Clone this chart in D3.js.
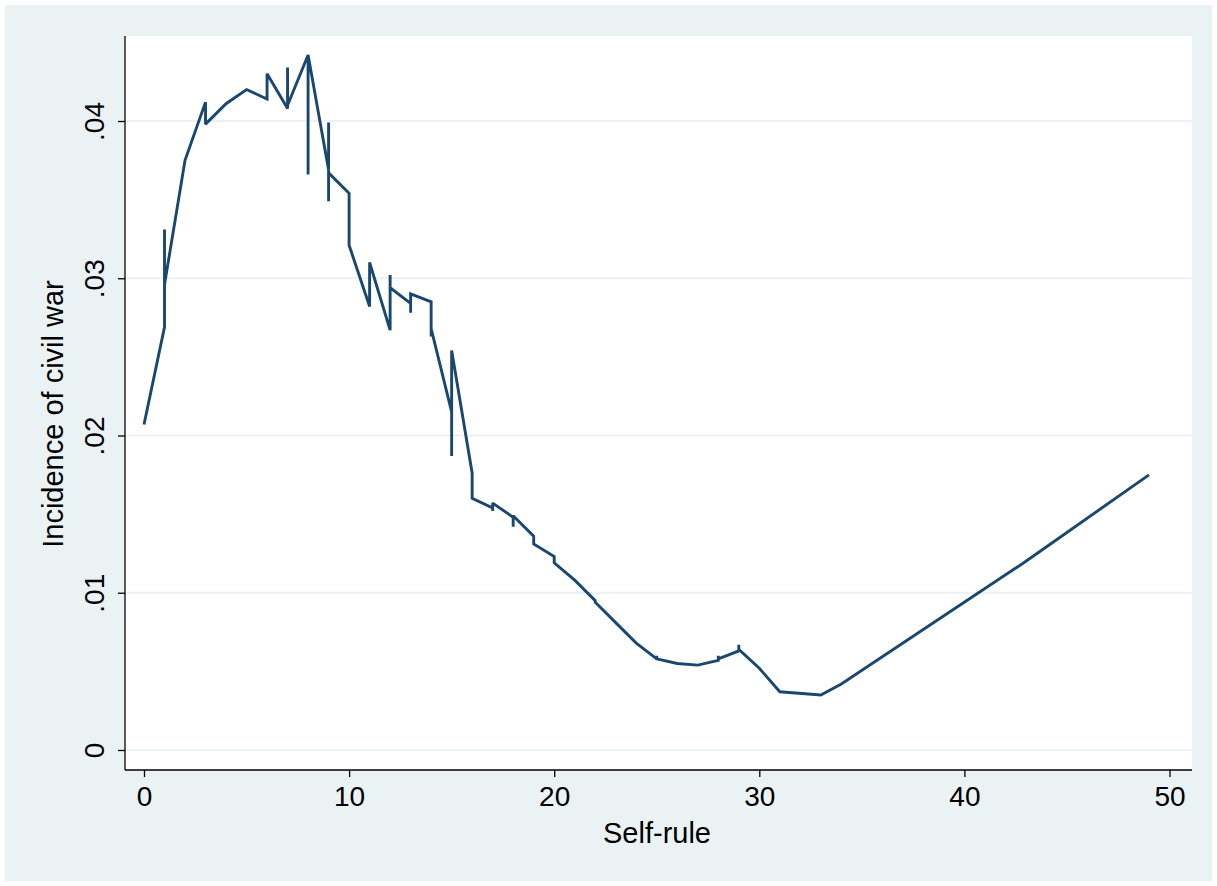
<!DOCTYPE html>
<html>
<head>
<meta charset="utf-8">
<script src="https://cdn.jsdelivr.net/npm/d3@7"></script>
<style>
  html, body { margin: 0; padding: 0; background: #ffffff; }
  svg { display: block; }
  text { font-family: "Liberation Sans", Arial, Helvetica, sans-serif; fill: #000; }
</style>
</head>
<body>
<svg id="chart" width="1217" height="886"></svg>
<script>
// Years of self-rule (repeated values give the vertical runs of the line)
const selfRule = [
  0,
  1, 1, 1,
  2,
  3, 3,
  4,
  5,
  6, 6,
  7, 7, 7,
  8, 8, 8,
  9, 9, 9, 9,
  10, 10,
  11, 11,
  12, 12, 12,
  13, 13, 13,
  14, 14, 14,
  15, 15, 15,
  16, 16,
  17, 17, 17,
  18, 18, 18,
  19, 19,
  20, 20,
  21,
  22, 22,
  23,
  24,
  25, 25, 25,
  26,
  27,
  28, 28, 28,
  29, 29, 29,
  30,
  31,
  33,
  34,
  43,
  49
];

// Predicted incidence of civil war, one value per entry above
const incidence = [
  0.0207,
  0.0269, 0.0331, 0.0296,
  0.0375,
  0.0412, 0.0398,
  0.0411,
  0.0420,
  0.0414, 0.0430,
  0.0408, 0.0434, 0.0410,
  0.0442, 0.0366, 0.0442,
  0.0369, 0.0399, 0.0349, 0.0367,
  0.0354, 0.0321,
  0.0282, 0.0310,
  0.0267, 0.0302, 0.0294,
  0.0284, 0.0278, 0.0290,
  0.0285, 0.0263, 0.0268,
  0.0215, 0.0187, 0.0254,
  0.0176, 0.0160,
  0.0154, 0.0152, 0.0157,
  0.0148, 0.0142, 0.0149,
  0.0136, 0.0131,
  0.0123, 0.0119,
  0.0108,
  0.0095, 0.0094,
  0.0081,
  0.0068,
  0.0058, 0.0060, 0.0058,
  0.0055,
  0.0054,
  0.0057, 0.0060, 0.0058,
  0.0063, 0.0067, 0.0064,
  0.0052,
  0.0037,
  0.0035,
  0.0042,
  0.0120,
  0.0175
];

const xTicks = [0, 10, 20, 30, 40, 50];
const yTicks = [0, 0.01, 0.02, 0.03, 0.04];
const yTickLabels = ["0", ".01", ".02", ".03", ".04"];
const xTitle = "Self-rule";
const yTitle = "Incidence of civil war";

const svg = d3.select("#chart");
const W = 1217, H = 886;

// Plot region bounds
const plot = { left: 125, right: 1192, top: 36, bottom: 770 };

const x = d3.scaleLinear().domain([0, 50]).range([144, 1169.5]);
const y = d3.scaleLinear().domain([0, 0.04]).range([750, 121]);

// Outer graph region
svg.append("rect").attr("x", 0).attr("y", 0).attr("width", W).attr("height", H).attr("fill", "#ffffff");
svg.append("rect").attr("x", 5).attr("y", 5).attr("width", W - 10).attr("height", H - 10).attr("fill", "#eaf2f3");

// Plot region
svg.append("rect")
  .attr("x", plot.left).attr("y", plot.top)
  .attr("width", plot.right - plot.left).attr("height", plot.bottom - plot.top)
  .attr("fill", "#ffffff");

// Horizontal grid lines
svg.append("g").selectAll("line").data(yTicks).join("line")
  .attr("x1", plot.left).attr("x2", plot.right)
  .attr("y1", d => y(d)).attr("y2", d => y(d))
  .attr("stroke", "#eaf2f3").attr("stroke-width", 2.2);

// Y axis
const yAxis = d3.axisLeft(y).tickValues(yTicks)
  .tickFormat((d, i) => yTickLabels[i]).tickSize(7).tickPadding(14);
const gy = svg.append("g").attr("transform", `translate(${plot.left},0)`).call(yAxis);
gy.select(".domain").attr("d", `M0,${plot.top}V${plot.bottom}`).attr("stroke", "#000").attr("stroke-width", 1.3);
gy.selectAll(".tick line").attr("stroke", "#000").attr("stroke-width", 1.3);
gy.selectAll(".tick text")
  .attr("font-size", 28).attr("fill", "#000")
  .attr("font-family", "Liberation Sans, Arial, sans-serif")
  .attr("text-anchor", "middle").attr("dy", null)
  .attr("x", null)
  .attr("transform", "translate(-31,0) rotate(-90)")
  .attr("dominant-baseline", "central");

// X axis
const xAxis = d3.axisBottom(x).tickValues(xTicks).tickSize(7).tickPadding(9);
const gx = svg.append("g").attr("transform", `translate(0,${plot.bottom})`).call(xAxis);
gx.select(".domain").attr("d", `M${plot.left},0H${plot.right}`).attr("stroke", "#000").attr("stroke-width", 1.3);
gx.selectAll(".tick line").attr("stroke", "#000").attr("stroke-width", 1.3);
gx.selectAll(".tick text")
  .attr("font-size", 28).attr("fill", "#000")
  .attr("font-family", "Liberation Sans, Arial, sans-serif");

// Axis titles
svg.append("text")
  .attr("x", 657).attr("y", 843)
  .attr("text-anchor", "middle").attr("font-size", 29)
  .text(xTitle);
svg.append("text")
  .attr("transform", `translate(63,414) rotate(-90)`)
  .attr("text-anchor", "middle").attr("font-size", 29)
  .text(yTitle);

// Prediction line
const pts = selfRule.map((s, i) => [s, incidence[i]]);
const line = d3.line().x(d => x(d[0])).y(d => y(d[1]));
svg.append("path")
  .datum(pts)
  .attr("d", line)
  .attr("fill", "none")
  .attr("stroke", "#1a476f")
  .attr("stroke-width", 2.9)
  .attr("stroke-linejoin", "miter")
  .attr("stroke-miterlimit", 2);
</script>
</body>
</html>
